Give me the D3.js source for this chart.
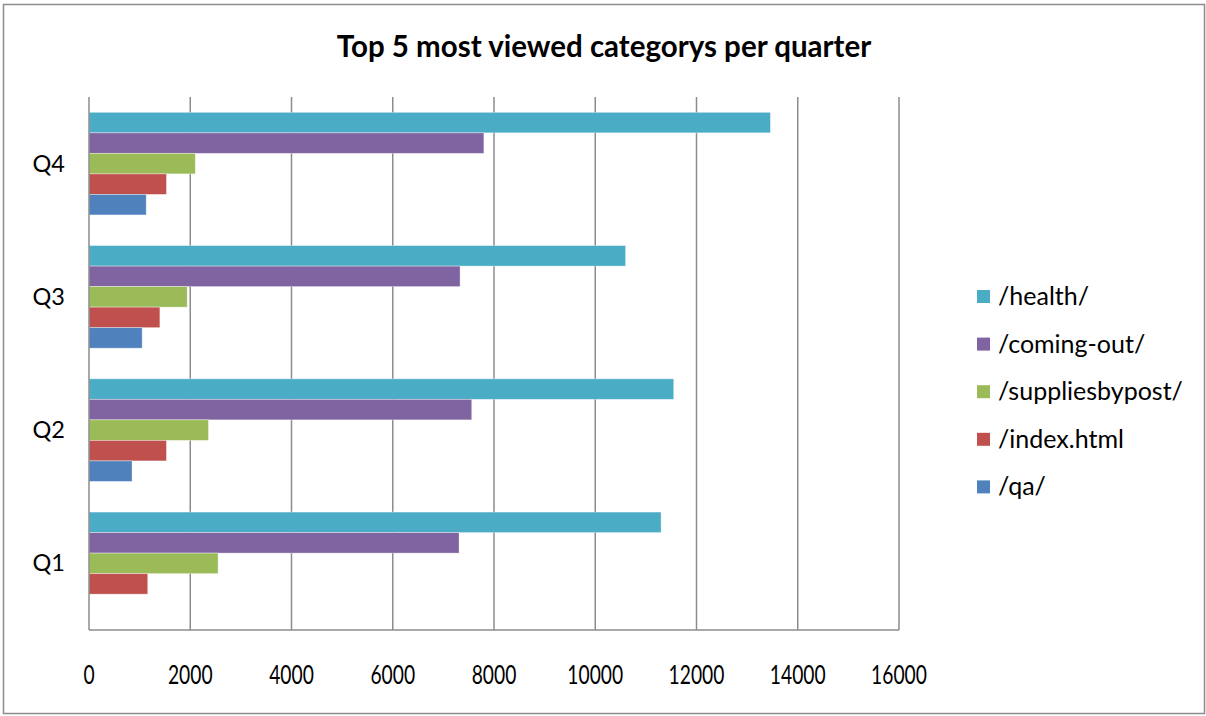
<!DOCTYPE html>
<html>
<head>
<meta charset="utf-8">
<script src="https://cdn.jsdelivr.net/npm/d3@7"></script>
<style>
  body { margin: 0; background: #fff; }
  text { font-family: Lato, "Open Sans", sans-serif; fill: #000; }
</style>
</head>
<body>
<svg id="chart" width="1206" height="716"></svg>
<script>
// quarters, top to bottom as drawn
var quarters = ["Q4", "Q3", "Q2", "Q1"];
// series in legend order (top bar first)
var seriesNames = ["/health/", "/coming-out/", "/suppliesbypost/", "/index.html", "/qa/"];
var seriesColors = ["#4bacc6", "#8064a2", "#9bbb59", "#c0504d", "#4f81bd"];
// values per series, in quarters order Q4, Q3, Q2, Q1
var health = [13460, 10600, 11550, 11300];
var comingOut = [7800, 7330, 7560, 7310];
var suppliesByPost = [2100, 1940, 2360, 2550];
var indexHtml = [1530, 1400, 1530, 1160];
var qa = [1130, 1050, 850, 0];
var xTicks = [0, 2000, 4000, 6000, 8000, 10000, 12000, 14000, 16000];

var values = [health, comingOut, suppliesByPost, indexHtml, qa];

var svg = d3.select("#chart");

// outer frame
svg.append("rect")
   .attr("x", 3.5).attr("y", 4.5)
   .attr("width", 1201).attr("height", 709)
   .attr("fill", "none")
   .attr("stroke", "#8c8c8c")
   .attr("stroke-width", 1.5);

var plot = {left: 89, right: 899, top: 97, bottom: 630};

var x = d3.scaleLinear().domain([0, 16000]).range([plot.left, plot.right]);
var y = d3.scaleBand().domain(quarters).range([plot.top, plot.bottom])
          .paddingInner(0.23).paddingOuter(0.115);
var yInner = d3.scaleBand().domain(seriesNames).range([0, y.bandwidth()]);

// gridlines
svg.append("g").selectAll("line")
   .data(xTicks.slice(1))
   .enter().append("line")
   .attr("x1", function(d){ return x(d); })
   .attr("x2", function(d){ return x(d); })
   .attr("y1", plot.top).attr("y2", plot.bottom)
   .attr("stroke", "#8c8c8c")
   .attr("stroke-width", 1.5);

// bars
var rows = [];
seriesNames.forEach(function(s, i){
  quarters.forEach(function(q, j){
    rows.push({series: s, quarter: q, value: values[i][j], color: seriesColors[i]});
  });
});

svg.append("g").selectAll("rect")
   .data(rows.filter(function(d){ return d.value > 0; }))
   .enter().append("rect")
   .attr("x", x(0))
   .attr("y", function(d){ return y(d.quarter) + yInner(d.series); })
   .attr("width", function(d){ return x(d.value) - x(0); })
   .attr("height", yInner.bandwidth())
   .attr("fill", function(d){ return d.color; })
   .attr("stroke", "rgba(255,255,255,0.45)")
   .attr("stroke-width", 0.8);

// axes lines
svg.append("line")
   .attr("x1", plot.left).attr("x2", plot.left)
   .attr("y1", plot.top).attr("y2", plot.bottom)
   .attr("stroke", "#8c8c8c").attr("stroke-width", 1.5);
svg.append("line")
   .attr("x1", plot.left).attr("x2", plot.right)
   .attr("y1", plot.bottom).attr("y2", plot.bottom)
   .attr("stroke", "#8c8c8c").attr("stroke-width", 1.5);

// x tick labels (narrow, tall glyphs like the original)
svg.append("g").selectAll("text")
   .data(xTicks)
   .enter().append("text")
   .attr("transform", function(d){ return "translate(" + x(d) + ",684) scale(0.74,1)"; })
   .attr("text-anchor", "middle")
   .style("font-size", "26px")
   .text(function(d){ return d; });

// category labels
svg.append("g").selectAll("text")
   .data(quarters)
   .enter().append("text")
   .attr("x", 65)
   .attr("y", function(d){ return y(d) + y.bandwidth() / 2 + 8; })
   .attr("text-anchor", "end")
   .style("font-size", "23.5px")
   .text(function(d){ return d; });

// title
svg.append("text")
   .attr("x", 604).attr("y", 57)
   .attr("text-anchor", "middle")
   .style("font-size", "29.5px")
   .style("font-weight", "bold")
   .text("Top 5 most viewed categorys per quarter");

// legend
var legend = svg.append("g").selectAll("g")
   .data(seriesNames)
   .enter().append("g")
   .attr("transform", function(d, i){ return "translate(977," + (290 + i * 47.6) + ")"; });
legend.append("rect")
   .attr("width", 13).attr("height", 13)
   .attr("fill", function(d, i){ return seriesColors[i]; });
legend.append("text")
   .attr("x", 21).attr("y", 15)
   .style("font-size", "25px")
   .text(function(d){ return d; });
</script>
</body>
</html>
